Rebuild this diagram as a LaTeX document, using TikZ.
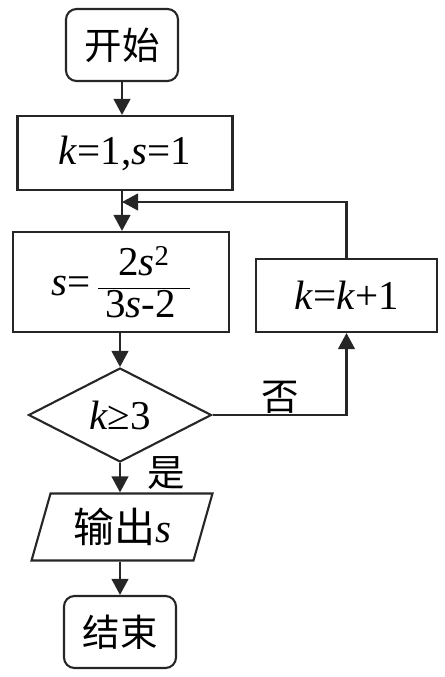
\documentclass[tikz,border=0pt]{standalone}
\usepackage{fontspec}
\setmainfont{Liberation Serif}
\newfontfamily\cjk{Noto Sans CJK SC}
\usetikzlibrary{shapes.geometric,arrows.meta}

\tikzset{
  box/.style={draw=black!85, line width=1.8pt, inner sep=0pt,
    font=\fontsize{35}{40}\selectfont},
  terminal/.style={box, rounded corners=9pt, minimum width=3.36cm,
    minimum height=2.16cm, font=\cjk\fontsize{32}{38}\selectfont},
  proc/.style={box, minimum width=6.45cm, minimum height=2.22cm},
  decide/.style={box, diamond, aspect=1.95, minimum width=5.49cm, minimum height=2.82cm},
  io/.style={box, trapezium, trapezium left angle=71, trapezium right angle=109,
    trapezium stretches, minimum width=5.43cm, minimum height=2.01cm},
  lbl/.style={font=\cjk\fontsize{32}{38}\selectfont},
  arr/.style={draw=black!85, line width=1.8pt,
    -{Triangle[length=0.48cm,width=0.5cm]}}
}

\begin{document}
\begin{tikzpicture}[x=0.03cm,y=-0.03cm]

  \useasboundingbox (0,0) rectangle (444,677);

  % main column
  \node[terminal] (start) at (122,45) {开始};
  \node[proc] (init) at (125,153) {\textit{k}=1,\textit{s}=1};
  \node[proc, minimum width=6.48cm, minimum height=3cm] (calc) at (121,282)
    {\textit{s}=\,$\displaystyle\frac{\mbox{2\textit{s}\textsuperscript{2}}}{\mbox{\,3\textit{s}-2\,\,}}$};
  \node[decide] (test) at (120,415) {\textit{k}≥3};
  \node[io] (out) at (122,527) {{\cjk 输出}\textit{s}};
  \node[terminal] (stop) at (120,632) {结束};

  % loop body
  \node[proc, minimum width=5.43cm, minimum height=2.19cm] (inc) at (346.5,295.5)
    {\textit{k}=\textit{k}+1};
  \coordinate (join) at (122,202);

  \draw[arr] (start.south) -- (start.south |- init.north);
  \draw[arr] (start.south |- init.south) -- (start.south |- calc.north);
  \draw[arr] (inc.north) |- (join);
  \draw[arr] (calc.south -| test.north) -- (test.north);
  \draw[arr] (test.east) -| (inc.south);
  \draw[arr] (test.south) -- (test.south |- out.north);
  \draw[arr] (out.south -| stop.north) -- (stop.north);

  \node[lbl] (no) at (280,397) {否};
  \node[lbl] (yes) at (166,473) {是};

\end{tikzpicture}
\end{document}
